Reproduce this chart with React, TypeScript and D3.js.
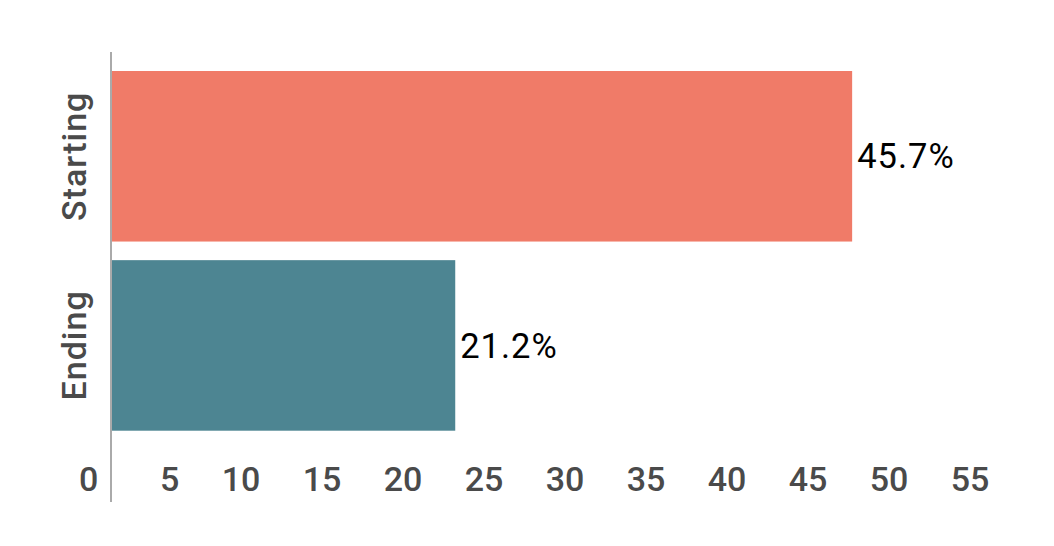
import React from "react";
import * as d3 from "d3";

const categories = ["Starting", "Ending"];
const values = [45.7, 21.2];
const valueLabels = ["45.7%", "21.2%"];
const colors = ["#F07B68", "#4D8592"];
const tickValues = [0, 5, 10, 15, 20, 25, 30, 35, 40, 45, 50, 55];

export default function App() {
  const W = 1054;
  const H = 546;
  const x = d3.scaleLinear().domain([0, 55]).range([111.8, 1002.8]);
  const y = d3
    .scaleBand<string>()
    .domain(categories)
    .range([71, 430.7])
    .paddingInner(0.0984)
    .paddingOuter(0);
  const font = "Roboto, 'Noto Sans', sans-serif";
  return (
    <svg
      width={W}
      height={H}
      style={{ position: "absolute", left: 0, top: 0, background: "#fff" }}
    >
      {categories.map((c, i) => (
        <g key={c}>
          <rect
            x={x(0)}
            y={y(c)}
            width={x(values[i]) - x(0)}
            height={y.bandwidth()}
            fill={colors[i]}
          />
          <text
            x={x(values[i]) + 5}
            y={(y(c) as number) + y.bandwidth() / 2}
            dy="0.35em"
            fontFamily={font}
            fontSize={34.5}
            fontWeight={400}
            fill="#000"
            letterSpacing={1}
          >
            {valueLabels[i]}
          </text>
          <text
            transform={`translate(86, ${(y(c) as number) + y.bandwidth() / 2}) rotate(-90)`}
            textAnchor="middle"
            fontFamily={font}
            fontSize={34}
            fontWeight={500}
            fill="#4a4a4a"
            letterSpacing={1}
          >
            {c}
          </text>
        </g>
      ))}
      <line x1={111} x2={111} y1={52} y2={502} stroke="#aaaaaa" strokeWidth={2} />
      {tickValues.map((t) => (
        <text
          key={t}
          x={x(t) - 13.5}
          y={491}
          textAnchor="end"
          fontFamily={font}
          fontSize={34}
          fontWeight={500}
          fill="#4a4a4a"
        >
          {t}
        </text>
      ))}
    </svg>
  );
}
